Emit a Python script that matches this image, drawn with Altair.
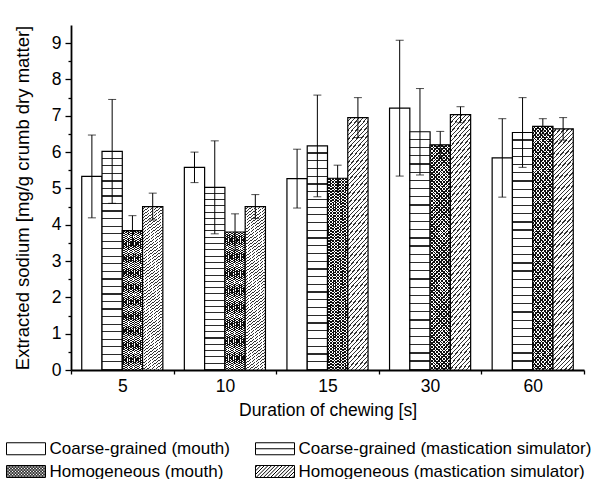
import altair as alt
import pandas as pd

# ---------------- data ----------------
categories = ["5", "10", "15", "30", "60"]
series = [
    "Coarse-grained (mouth)",
    "Coarse-grained (mastication simulator)",
    "Homogeneous (mouth)",
    "Homogeneous (mastication simulator)",
]
coarse_mouth = [5.33, 5.58, 5.27, 7.21, 5.84]
coarse_mouth_sd = [1.14, 0.42, 0.81, 1.87, 1.08]
coarse_sim = [6.02, 5.03, 6.17, 6.56, 6.54]
coarse_sim_sd = [1.43, 1.28, 1.40, 1.19, 0.96]
homog_mouth = [3.84, 3.80, 5.28, 6.20, 6.71]
homog_mouth_sd = [0.41, 0.50, 0.36, 0.37, 0.21]
homog_sim = [4.50, 4.50, 6.95, 7.03, 6.64]
homog_sim_sd = [0.37, 0.33, 0.55, 0.22, 0.31]
y_tick_values = [0, 0.5, 1, 1.5, 2, 2.5, 3, 3.5, 4, 4.5, 5, 5.5, 6, 6.5, 7, 7.5, 8, 8.5, 9]

means = [coarse_mouth, coarse_sim, homog_mouth, homog_sim]
sds = [coarse_mouth_sd, coarse_sim_sd, homog_mouth_sd, homog_sim_sd]
rows = []
for s, m, e in zip(series, means, sds):
    for c, mv, ev in zip(categories, m, e):
        rows.append({"cat": c, "series": s, "mean": mv, "sd": ev})
df = pd.DataFrame(rows)

FONT = "Liberation Sans"

# ---------------- styles (hatch patterns as gradients) ----------------
def stripes(n, frac, line, bg, x1, y1, x2, y2):
    stops = []
    for i in range(n):
        a = round(i / n, 5)
        b = round((i + 1 - frac) / n, 5)
        c = round((i + 1) / n, 5)
        stops += [
            {"offset": a, "color": bg},
            {"offset": b, "color": bg},
            {"offset": b, "color": line},
            {"offset": c, "color": line},
        ]
    return {"gradient": "linear", "x1": x1, "y1": y1, "x2": x2, "y2": y2, "stops": stops}

horiz_fill = stripes(29, 0.16, "#2a2a2a", "#ffffff", 0, 0, 0, 1)
diag_fill = stripes(61, 0.3, "#333333", "#ffffff", 0, 0, 0.1, 1.1)
cross_a = stripes(72, 0.38, "#111111", "#ffffff", 0, 0, 0.1, 1.1)
cross_b = stripes(72, 0.38, "#111111", "rgba(255,255,255,0)", 0.1, -0.1, 0, 1.0)

# legend symbol paths: box of 39 x 12 px, path units of 6 px
HX = 3.25
HY = 1.0
rect = f"M{-HX},{-HY}H{HX}V{HY}H{-HX}Z"

def diag_lines(step, forward=True):
    segs = []
    span = 2 * HY
    c = -HX - span + step / 2
    while c < HX:
        x0, y0 = c, HY
        x1, y1 = c + span, -HY
        if x0 < -HX:
            y0 = HY - (-HX - x0)
            x0 = -HX
        if x1 > HX:
            y1 = -HY + (x1 - HX)
            x1 = HX
        if x1 > x0:
            if forward:
                segs.append(f"M{x0:.3f},{y0:.3f}L{x1:.3f},{y1:.3f}")
            else:
                segs.append(f"M{x0:.3f},{-y0:.3f}L{x1:.3f},{-y1:.3f}")
        c += step
    return "".join(segs)

shape_paths = [
    rect,
    rect + f"M{-HX},0H{HX}",
    rect + diag_lines(0.5, True) + diag_lines(0.5, False),
    rect + diag_lines(0.6, True),
]

# ---------------- scales / axes ----------------
xscale = alt.Scale(domain=categories, paddingInner=0, paddingOuter=0)
offscale = alt.Scale(domain=series, paddingInner=0, paddingOuter=0.53)
yscale = alt.Scale(domain=[0, 9.5], nice=False)

xaxis = alt.Axis(
    title="Duration of chewing [s]", labelAngle=0, tickBand="extent", tickSize=4,
    tickWidth=1.3, tickColor="black", domainColor="black", domainWidth=1.8,
    labelFontSize=17.5, labelPadding=3, titleFontSize=17.5, titleFontWeight="normal",
    titlePadding=7, labelColor="black", titleColor="black", grid=False,
)
yaxis = alt.Axis(
    title="Extracted sodium [mg/g crumb dry matter]", values=y_tick_values,
    labelExpr="datum.value % 1 == 0 ? '' + datum.value : ''",
    tickSize={"condition": {"test": "datum.value % 1 != 0", "value": 3}, "value": 6},
    tickWidth=1.3, tickColor="black", domainColor="black", domainWidth=1.8,
    labelFontSize=17.5, labelPadding=4, titleFontSize=18.5, titleFontWeight="normal",
    titlePadding=19, labelColor="black", titleColor="black", grid=False,
)

def X():
    return alt.X("cat:N", scale=xscale, axis=xaxis)

def XO():
    return alt.XOffset("series:N", scale=offscale)

def Y(field):
    return alt.Y(f"{field}:Q", scale=yscale, axis=yaxis)

base = alt.Chart(df).transform_calculate(
    lo="datum.mean - datum.sd", hi="datum.mean + datum.sd"
)

def bars(name, fill, stroke=True):
    kw = dict(fill=fill)
    if stroke:
        kw.update(stroke="black", strokeWidth=1.2)
    else:
        kw.update(strokeWidth=0)
    return base.transform_filter(alt.datum.series == name).mark_bar(**kw).encode(
        x=X(), xOffset=XO(), y=Y("mean")
    )

bar_cm = bars(series[0], "#ffffff")
bar_cs = bars(series[1], horiz_fill)
bar_hm_a = bars(series[2], cross_a, stroke=False)
bar_hm_b = bars(series[2], cross_b)
bar_hs = bars(series[3], diag_fill)

err_rule = base.mark_rule(color="black", strokeWidth=1).encode(
    x=X(), xOffset=XO(), y=Y("lo"), y2="hi:Q"
)
cap_hi = base.mark_tick(orient="horizontal", color="black", thickness=1, size=8).encode(
    x=X(), xOffset=XO(), y=Y("hi")
)
cap_lo = base.mark_tick(orient="horizontal", color="black", thickness=1, size=8).encode(
    x=X(), xOffset=XO(), y=Y("lo")
)

leg = alt.Legend(
    title=None, orient="none", legendX=-67, legendY=415, columns=2, direction="horizontal",
    columnPadding=23, rowPadding=5, symbolSize=144, symbolOffset=13.5,
    symbolStrokeWidth=1, symbolStrokeColor="black", symbolOpacity=1,
    symbolFillColor="white",
    labelFontSize=17, labelFont=FONT, labelColor="black", labelLimit=450, labelOffset=15,
)
legend_layer = base.mark_point(size=0, filled=False, color="black", strokeWidth=1).encode(
    x=X(), xOffset=XO(), y=Y("mean"),
    shape=alt.Shape("series:N", scale=alt.Scale(domain=series, range=shape_paths), legend=leg),
)

chart = alt.layer(
    bar_cm, bar_cs, bar_hm_a, bar_hm_b, bar_hs, err_rule, cap_hi, cap_lo, legend_layer
).properties(
    width=513, height=345,
    padding={"left": 71, "top": 25, "right": 21, "bottom": 109},
    autosize=alt.AutoSizeParams(type="none"),
    background="white",
).configure(font=FONT).configure_view(strokeWidth=0)

chart.save("out.html", embed_options={"renderer": "svg", "actions": False})
